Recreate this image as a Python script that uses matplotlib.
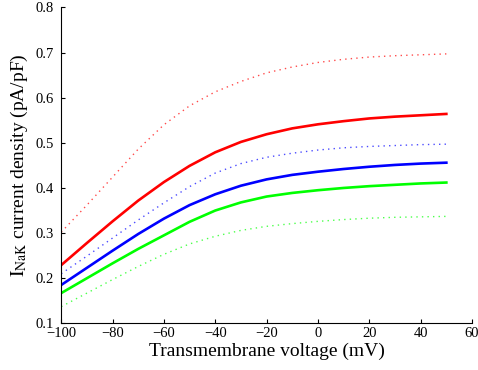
import matplotlib
matplotlib.use("Agg")
import matplotlib.pyplot as plt

# transmembrane voltage (mV)
voltage = [-100, -90, -80, -70, -60, -50, -40, -30, -20, -10, 0, 10, 20, 30, 40, 50]

# I_NaK current density (pA/pF)
red_solid = [0.229, 0.278, 0.326, 0.372, 0.413, 0.449, 0.479, 0.502, 0.519, 0.532,
             0.541, 0.548, 0.554, 0.558, 0.561, 0.564]
red_dotted = [0.302, 0.362, 0.424, 0.486, 0.540, 0.582, 0.613, 0.636, 0.655, 0.668,
              0.678, 0.685, 0.690, 0.693, 0.695, 0.697]
blue_solid = [0.185, 0.223, 0.261, 0.298, 0.332, 0.362, 0.386, 0.405, 0.419, 0.429,
              0.436, 0.442, 0.447, 0.451, 0.454, 0.456]
blue_dotted = [0.210, 0.249, 0.289, 0.329, 0.367, 0.403, 0.433, 0.454, 0.468, 0.477,
               0.484, 0.489, 0.492, 0.494, 0.496, 0.497]
green_solid = [0.167, 0.200, 0.233, 0.265, 0.295, 0.325, 0.350, 0.368, 0.381, 0.389,
               0.395, 0.400, 0.404, 0.407, 0.410, 0.412]
green_dotted = [0.137, 0.167, 0.197, 0.226, 0.253, 0.276, 0.293, 0.306, 0.315, 0.321,
                0.326, 0.330, 0.333, 0.335, 0.336, 0.337]

x_ticks = [-100, -80, -60, -40, -20, 0, 20, 40, 60]
y_ticks = [0.1, 0.2, 0.3, 0.4, 0.5, 0.6, 0.7, 0.8]

plt.rcParams['font.family'] = ['Liberation Serif', 'DejaVu Serif']
plt.rcParams['mathtext.fontset'] = 'stix'

fig = plt.figure(figsize=(4.78, 3.70), dpi=100)
ax = fig.add_axes([0.128, 0.126, 0.8595, 0.854])

dots = (0, (1, 3))
ax.plot(voltage, red_dotted, color='#ff0000', lw=1.0, ls=dots, alpha=0.7)
ax.plot(voltage, blue_dotted, color='#0000ff', lw=1.0, ls=dots, alpha=0.7)
ax.plot(voltage, green_dotted, color='#00ff00', lw=1.0, ls=dots, alpha=0.7)
ax.plot(voltage, red_solid, color='#ff0000', lw=1.9)
ax.plot(voltage, blue_solid, color='#0000ff', lw=1.9)
ax.plot(voltage, green_solid, color='#00ff00', lw=1.9)

ax.set_xlim(-100, 60)
ax.set_ylim(0.1, 0.8)
ax.set_xticks(x_ticks)
ax.set_yticks(y_ticks)
ax.set_yticklabels(['%.1f' % v for v in y_ticks])

for s in ['top', 'right']:
    ax.spines[s].set_visible(False)
ax.tick_params(direction='in', length=3, width=0.8, labelsize=10.5)
ax.tick_params(axis='y', pad=5.5)
ax.tick_params(axis='x', pad=2.5)

ax.set_xlabel('Transmembrane voltage (mV)', fontsize=14, labelpad=2)
ax.set_ylabel(r'$\mathrm{I_{NaK}}$ current density (pA/pF)', fontsize=14, labelpad=4)

fig.savefig('out.png', dpi=100)
